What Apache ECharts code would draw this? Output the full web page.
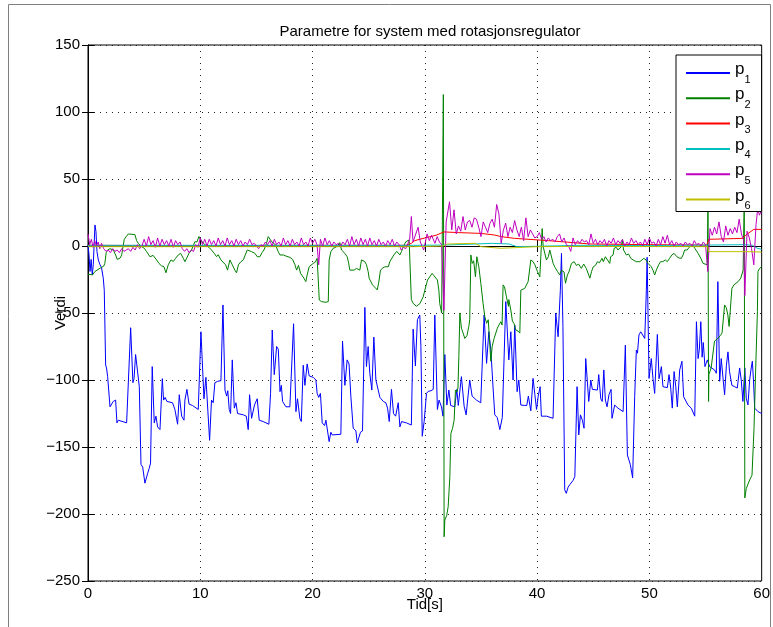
<!DOCTYPE html>
<html>
<head>
<meta charset="utf-8">
<title>Parametre for system med rotasjonsregulator</title>
<script src="https://cdn.jsdelivr.net/npm/echarts@6/dist/echarts.min.js"></script>
<style>
  html, body { margin: 0; padding: 0; background: #fff; }
  #chart { width: 773px; height: 627px; }
</style>
</head>
<body>
<div id="chart"></div>
<script>
// Axis setup
const xTicks = [0, 10, 20, 30, 40, 50, 60];
const yTicks = [-250, -200, -150, -100, -50, 0, 50, 100, 150];
const seriesNames = ['p1', 'p2', 'p3', 'p4', 'p5', 'p6'];

// p1: [time (s), value]
const p1 = [[0,0.7],[0.09,-6.7],[0.18,-19],[0.28,-10],[0.38,-21.6],[0.47,-14],[0.62,15.7],[0.71,10.7],[0.8,-4.2],[0.92,-10.4],[1.07,-14],[1.2,-16],[1.36,-24],[1.45,-33],[1.57,-88.8],[1.65,-91],[1.75,-97.5],[1.96,-120],[2.25,-116],[2.46,-115],[2.58,-132],[2.7,-130],[3.44,-132],[3.6,-131],[3.8,-61],[4.0,-102],[4.1,-99],[4.24,-81],[4.35,-82],[4.57,-105],[4.72,-163],[4.87,-165],[5.07,-177],[5.15,-176],[5.3,-170],[5.45,-166],[5.57,-162],[5.72,-90],[5.9,-132],[6.05,-127],[6.2,-135],[6.41,-137],[6.62,-99],[6.73,-115],[6.87,-113],[7.03,-116],[7.53,-117],[7.74,-122],[7.98,-133],[8.13,-111],[8.34,-127],[8.55,-130],[8.63,-115],[8.81,-107],[9.0,-118],[9.3,-119],[9.82,-122],[9.95,-122],[10.06,-64],[10.33,-114],[10.5,-98],[10.65,-99],[10.83,-145],[11.0,-115],[11.15,-117],[11.3,-102],[11.55,-101],[11.84,-100.5],[12.02,-44],[12.2,-107.5],[12.35,-112],[12.45,-108],[12.58,-122],[12.7,-125],[12.85,-85],[13.03,-121],[13.18,-117],[13.32,-125],[13.83,-126],[14.1,-127],[14.27,-137],[14.39,-111],[14.57,-128.6],[14.66,-128.6],[14.83,-118.6],[15.07,-114],[15.25,-130],[15.6,-131],[16.11,-133],[16.26,-110],[16.41,-62.7],[16.59,-96],[16.8,-75],[16.95,-77],[17.1,-108.7],[17.22,-104],[17.33,-116],[17.63,-120],[17.98,-120],[18.15,-120.5],[18.31,-58],[18.52,-123.6],[18.66,-114],[18.87,-128.6],[19.0,-131],[19.17,-89],[19.32,-104],[19.52,-88],[19.7,-97],[20.06,-98],[20.3,-100],[20.41,-110],[20.55,-113],[20.7,-110],[20.86,-132],[21.07,-134],[21.19,-130],[21.33,-131],[21.48,-146],[21.63,-139],[21.75,-141],[22.52,-140.5],[22.67,-71],[22.88,-104],[23.08,-85],[23.25,-88],[23.41,-112],[23.62,-136],[23.86,-138],[23.98,-147],[24.12,-143],[24.27,-139],[24.45,-138],[24.66,-45.8],[24.8,-90],[24.95,-75],[25.1,-95],[25.28,-107.5],[25.46,-68],[25.64,-100],[25.8,-99],[26.0,-113],[26.3,-116],[26.53,-117],[26.68,-121],[26.83,-131],[27.03,-107],[27.21,-125],[27.4,-127],[27.63,-117],[27.78,-135],[27.93,-131],[28.36,-132],[28.8,-133.6],[28.96,-62],[29.16,-89.5],[29.34,-55],[29.55,-51.5],[29.65,-75],[29.77,-142],[29.94,-131],[30.15,-110],[30.3,-108.5],[30.55,-108],[30.75,-107],[30.89,-51.5],[31.12,-122],[31.27,-115],[31.48,-120],[31.62,-127],[31.78,-81],[31.96,-118.7],[32.14,-107.5],[32.3,-119],[32.67,-120],[32.85,-107],[32.98,-119],[33.1,-118],[33.26,-97.5],[33.5,-119.6],[33.68,-126],[33.85,-112],[34.0,-100],[34.21,-112],[34.6,-115],[34.98,-117],[35.12,-117],[35.28,-51.5],[35.5,-87.6],[35.7,-64],[35.88,-77.6],[36.08,-106],[36.23,-126],[36.45,-128],[36.68,-137],[36.9,-128],[37.05,-128],[37.21,-41.5],[37.48,-85],[37.66,-64],[37.86,-100],[38.01,-59],[38.22,-108.7],[38.37,-100],[38.55,-118.7],[38.9,-119],[39.08,-119],[39.22,-112],[39.44,-123],[39.64,-98.8],[39.8,-111],[39.95,-122],[40.1,-112],[40.27,-105],[40.38,-127],[40.55,-126],[40.85,-127],[41.42,-128.6],[41.66,-50],[41.87,-67.7],[42.07,-33],[42.17,-5.5],[42.3,-60],[42.46,-182],[42.6,-184.6],[42.76,-180],[42.92,-178],[43.2,-175],[43.36,-172],[43.56,-105],[43.71,-141],[43.86,-126],[44.03,-130],[44.18,-136],[44.33,-84],[44.6,-116],[44.78,-100],[44.92,-107],[45.37,-107.5],[45.49,-96],[45.67,-114],[45.8,-116],[45.94,-92.5],[46.08,-115],[46.23,-120],[46.4,-111],[46.59,-107],[46.67,-128.6],[46.91,-118.7],[47.2,-121],[47.66,-123.6],[47.86,-74],[48.04,-156],[48.18,-157],[48.3,-163],[48.51,-173],[48.69,-112.5],[48.84,-77.6],[48.94,-80],[49.07,-66.4],[49.23,-64],[49.4,-65],[49.59,-69],[49.73,-33],[49.8,-8.4],[49.97,-98.8],[50.17,-84],[50.32,-99],[50.47,-110],[50.71,-66],[50.86,-99],[51.07,-90],[51.21,-105],[51.6,-105.7],[51.75,-96],[51.9,-106],[52.04,-121],[52.2,-93.7],[52.35,-105],[52.49,-120],[52.7,-92.5],[52.9,-86],[53.05,-112.5],[53.44,-118.7],[53.73,-121],[54.04,-127],[54.19,-56.5],[54.34,-84],[54.45,-77],[54.58,-56.5],[54.7,-83],[54.8,-72],[54.95,-90],[55.16,-85],[55.37,-90],[55.8,-92.5],[55.96,-95],[56.1,-26.6],[56.26,-101],[56.4,-84],[56.55,-98],[56.7,-111],[56.86,-89],[57.0,-79],[57.14,-93.7],[57.35,-104],[57.6,-105],[57.83,-106],[58.04,-91],[58.18,-100],[58.33,-116],[58.5,-91],[58.63,-113.7],[58.78,-118.6],[58.93,-100],[59.07,-91],[59.17,-86],[59.27,-100],[59.38,-121],[59.67,-123.6],[60,-125]];

// p2
const p2 = [[0,-21],[0.4,-21.6],[0.62,-19],[1.07,-16.6],[1.4,-15],[1.5,-13],[1.62,-5],[1.75,-3],[1.96,-2],[2.26,-3],[2.46,-6.7],[2.6,-10],[2.86,-9],[3.0,-6.7],[3.23,5],[3.4,7],[3.59,9],[4.18,8.5],[4.33,4],[4.48,2],[4.7,0],[5.01,-1.7],[5.22,-4.2],[5.52,-8],[5.8,-7],[6.11,-10.4],[6.32,-13],[6.53,-14.7],[6.77,-15.5],[6.94,-20],[7.15,-14],[7.39,-10.4],[7.6,-11.5],[7.8,-9.2],[8.04,-6.7],[8.25,-5.5],[8.49,-9.2],[8.63,-11.7],[8.8,-9],[8.99,-5.5],[9.22,-3],[9.52,3.2],[9.7,3],[9.88,7],[10.06,4.5],[10.27,2],[10.5,0.5],[10.77,-1],[11.0,-3],[11.25,-5.5],[11.45,-8],[11.6,-6.5],[11.84,-10.4],[12.0,-9.5],[12.25,-14],[12.43,-18],[12.64,-10.4],[12.85,-14],[13.08,-18],[13.23,-20],[13.4,-14],[13.62,-11.7],[13.83,-10.4],[14.0,-11.5],[14.18,-3],[14.35,-2.5],[14.57,-4.2],[14.87,-5.5],[15.07,-8],[15.31,-8],[15.5,-5],[15.67,-3],[15.9,2],[16.05,7],[16.15,7.5],[16.26,4.5],[16.5,2],[16.7,1],[16.94,-4.2],[17.1,-6.7],[17.4,-6.7],[17.63,-7.5],[17.8,-6.7],[17.98,-8.5],[18.22,-10],[18.43,-14],[18.58,-18],[18.75,-14.5],[18.93,-20.4],[19.1,-19.5],[19.23,-24],[19.4,-26.6],[19.52,-21.6],[19.7,-15.4],[19.85,-14.5],[20.06,-13],[20.25,-12],[20.41,-9.2],[20.5,-10.5],[20.6,-40.3],[20.8,-41.5],[21.2,-42],[21.4,-41.5],[21.48,-10.4],[21.63,-4.2],[21.84,-1.7],[22.07,-1],[22.28,0.7],[22.43,2.5],[22.58,-3],[22.88,-5.5],[23.08,-8],[23.2,-12],[23.32,-18],[23.47,-16.7],[23.7,-18],[23.92,-16.7],[24.21,-18],[24.36,-10.4],[24.5,-10.8],[24.66,-11.7],[24.8,-14],[24.95,-19],[25.04,-24],[25.2,-25],[25.34,-29],[25.55,-30.8],[25.76,-32.8],[25.9,-27],[26.05,-18],[26.25,-16.5],[26.44,-15.5],[26.6,-14.5],[26.75,-15.5],[26.88,-11.7],[27.05,-11.7],[27.24,-6.7],[27.5,-4],[27.65,-4],[27.78,-6.7],[27.93,-4],[28.07,-0.5],[28.31,3.2],[28.45,2.5],[28.6,4.5],[28.72,3.5],[28.8,-40],[28.96,-42.8],[29.25,-45],[29.56,-43],[29.85,-38],[30.0,-33],[30.24,-25.4],[30.4,-24.4],[30.65,-20.4],[30.8,-22],[30.95,-23],[31.12,-25.4],[31.25,-33],[31.33,-43],[31.5,-50],[31.65,113],[31.72,-217],[31.78,-204.5],[31.95,-201],[32.08,-194.5],[32.23,-172],[32.32,-140],[32.47,-136],[32.61,-130],[32.73,-107.5],[32.85,-109],[32.95,-106],[33.03,-82.6],[33.12,-50],[33.26,-61.4],[33.41,-65],[33.56,-69],[33.75,-67],[33.92,-60],[34.0,-55],[34.1,-6.7],[34.22,-13],[34.35,-11],[34.51,-23],[34.63,-8],[34.81,-15.5],[34.99,-28],[35.19,-43],[35.34,-52.7],[35.5,-57.7],[35.65,-55],[35.88,-86],[36.0,-75],[36.17,-69],[36.3,-68],[36.46,-61.4],[36.6,-59],[36.77,-56.5],[36.88,-59],[36.97,-29],[37.1,-30.6],[37.27,-38],[37.45,-45],[37.48,-40],[37.66,-47.8],[37.8,-56],[37.95,-58],[38.1,-62.7],[38.3,-63.5],[38.46,-65],[38.55,-33],[38.7,-33],[38.9,-31.6],[39.2,-26.6],[39.44,-10.4],[39.64,-11.7],[39.8,-14],[40.03,-19],[40.24,-23],[40.33,-8],[40.45,13],[40.54,-0.5],[40.7,-0.5],[40.83,-10.4],[41.0,-8],[41.13,-3],[41.3,-3],[41.43,-13],[41.6,-16],[41.81,-19],[42.02,-21.6],[42.17,-18],[42.4,-19.4],[42.53,-27.8],[42.7,-21.6],[42.83,-19.4],[43.06,-13],[43.3,-11.7],[43.5,-14.5],[43.7,-13.5],[43.94,-16.7],[44.15,-13.5],[44.38,-16.7],[44.48,-18],[44.7,-24],[44.85,-19],[45.0,-15.5],[45.2,-14.5],[45.37,-11.7],[45.55,-12.5],[45.78,-9.2],[45.9,-11.7],[46.08,-8],[46.25,-9],[46.47,-13],[46.55,-8],[46.77,-6.7],[46.86,-1.7],[47.05,-1],[47.2,-3],[47.35,-4],[47.5,-0.5],[47.6,4.5],[47.7,-3],[47.95,-6.7],[48.15,-6],[48.34,-9.2],[48.55,-10.4],[48.7,-9.2],[48.84,-11.7],[49.0,-13],[49.15,-11.7],[49.3,-10.4],[49.5,-9.2],[49.7,-10.4],[49.88,-13],[50.03,-14],[50.17,-15.5],[50.32,-18],[50.47,-21.6],[50.62,-18],[50.83,-14],[51.0,-11.7],[51.2,-11.7],[51.42,-10.4],[51.6,-11.7],[51.8,-9.2],[52.0,-6.7],[52.2,-5.5],[52.45,-8],[52.65,-9],[52.85,-9.2],[53.0,-6.7],[53.14,-3],[53.35,-3],[53.6,-0.5],[53.75,-1.7],[53.89,0.7],[54.04,-1.7],[54.34,-5.5],[54.58,-9.2],[54.78,-13],[54.95,-11.7],[55.16,-14],[55.22,35],[55.27,-116],[55.3,-96],[55.5,-91],[55.65,-92],[55.8,-71],[55.95,-70],[56.1,-69],[56.3,-67],[56.47,-65],[56.7,-44],[56.85,-46],[56.99,-51.5],[57.1,-60],[57.24,-44],[57.35,-31.6],[57.53,-29],[57.7,-28],[57.9,-26.6],[58.14,-24],[58.25,-23],[58.35,-18],[58.42,-19],[58.45,35],[58.5,-188],[58.63,-181],[58.93,-174.6],[59.14,-171],[59.32,-136],[59.47,-91],[59.62,-49],[59.67,-19],[59.82,-16.7],[60,-15.5]];

// p3
const p3 = [[0,0.5],[10,0.3],[20,0.5],[28.3,0.5],[28.8,2],[29.1,4],[30,6],[31,8],[31.7,10.5],[33,10],[35,9.4],[36.2,8.2],[36.8,7],[38,5.7],[41,4],[44.7,1.5],[50,1],[55.1,0.7],[55.3,5],[58.3,5.7],[58.6,8.2],[59.3,12.4],[60,12.4]];

// p4
const p4 = [[0,0.5],[29,0.5],[31.7,0.7],[34.5,1.5],[36,2],[37.5,1.5],[38.2,-0.5],[44,0.5],[50,0.3],[55.2,0.7],[58.5,1],[59.2,0.5],[59.6,-1.7],[60,-2.5]];

// p5
const p5 = [[0,9],[0.15,1],[0.3,5],[0.45,-1],[0.6,4],[0.75,0],[0.9,3],[1.05,-2],[1.2,2],[1.4,-2],
[1.6,-4],[1.8,-3],[2.0,-5],[2.2,-2],[2.4,-4],[2.6,-3],[2.8,-5],[3.0,-2],[3.2,-4],[3.4,-3],[3.6,-2],[3.8,-4],[4.0,-1],[4.2,-3],[4.4,1],[4.6,-2],[4.8,0],
[5.0,5],[5.2,0],[5.4,7],[5.6,1],[5.8,4],[6.0,-1],[6.2,6],[6.4,0],[6.6,5],[6.8,1],[7.0,4],[7.2,0],[7.4,5],[7.6,-1],[7.8,4],[8.0,1],[8.2,3],
[8.4,-2],[8.6,-4],[8.8,-2],[9.0,-5],[9.2,-3],[9.4,-4],[9.6,1],[9.8,-1],
[10.0,6],[10.2,1],[10.4,5],[10.6,0],[10.8,5],[11.0,1],[11.2,4],[11.4,0],[11.6,6],[11.8,1],[12.0,4],[12.2,0],[12.4,6],[12.6,1],[12.8,4],[13.0,0],[13.2,5],[13.4,1],[13.6,4],[13.8,0],[14.0,3],[14.2,1],[14.4,5],
[14.6,1],[14.8,2],[15.0,0],[15.2,-2],[15.4,1],[15.6,0],[15.8,3],[16.0,1],
[16.2,4],[16.4,0],[16.6,5],[16.8,1],[17.0,3],[17.2,0],[17.4,6],[17.6,1],[17.8,4],[18.0,0],[18.2,5],[18.4,1],[18.6,3],[18.8,0],[19.0,6],[19.2,1],[19.4,3],[19.6,0],[19.8,6],[20.0,2],[20.2,5],[20.4,1],
[20.55,-14],[20.7,5],
[20.9,0],[21.1,6],[21.3,1],[21.5,4],[21.7,0],[21.9,3],[22.1,1],[22.3,2],[22.5,0],[22.7,3],[22.9,1],[23.1,5],[23.3,0],[23.5,7],[23.7,1],[23.9,5],[24.1,0],[24.3,6],[24.5,1],[24.7,5],[24.9,0],[25.1,6],[25.3,1],[25.5,4],[25.7,0],[25.9,5],[26.1,1],[26.3,3],[26.5,0],[26.7,4],[26.9,1],[27.1,5],[27.3,0],[27.5,3],[27.7,1],[27.9,-3],[28.1,-1],[28.3,-2],[28.5,2],[28.65,5],[28.8,22],[28.95,3],
[29.1,4],[29.4,14],[29.6,3],[29.9,-3],[30.2,9],[30.4,4],[30.6,8],[30.9,2],[31.1,7],[31.3,3],[31.5,1],[31.7,-48],[31.9,18],
[32.2,33],[32.4,12],[32.6,27],[32.8,9],[33.0,15],[33.2,11],[33.4,22],[33.6,12],[33.8,18],[34.0,19],[34.2,14],[34.4,21],[34.6,20],[34.8,14],[35.0,7],[35.2,18],[35.4,14],[35.6,10],[35.8,17],[36.0,20],[36.2,14],[36.4,31],[36.6,24],[36.8,2],[37.0,12],[37.2,17],[37.4,7],[37.6,14],[37.8,10],[38.0,19],[38.2,12],[38.4,7],[38.6,14],[38.8,4],[39.0,21],[39.2,7],[39.4,12],[39.6,9],[39.8,6],[40.0,7],[40.2,10],[40.4,5],[40.6,7],[40.8,3],[41.0,6],[41.2,4],[41.4,5],[41.6,3],[41.8,7],[42.0,9],[42.2,3],[42.4,6],[42.6,1],[42.8,0],[43.0,-4],[43.2,6],[43.4,1],[43.6,4],[43.8,2],[44.0,5],[44.2,3],
[44.4,4],[44.6,1],[44.8,9],[45.0,2],[45.2,5],[45.4,1],[45.6,4],[45.8,2],[46.0,5],[46.2,0],[46.4,4],[46.6,2],[46.8,6],[47.0,1],[47.2,4],[47.4,2],[47.6,5],[47.8,0],[48.0,3],[48.2,1],[48.4,6],[48.6,2],[48.8,4],[49.0,1],[49.2,3],[49.4,0],[49.6,5],[49.8,1],[50.0,6],[50.2,2],[50.4,3],[50.6,0],[50.8,5],[51.0,1],[51.2,7],[51.4,2],[51.6,8],[51.8,1],[52.0,4],[52.2,0],[52.4,3],[52.6,1],[52.8,2],[53.0,0],[53.2,3],[53.4,1],[53.6,2],[53.8,0],[54.0,4],[54.2,1],[54.4,2],[54.6,0],[54.8,3],[55.0,1],
[55.2,-19],[55.4,13],[55.6,8],[55.8,14],[56.0,9],[56.2,18],[56.4,7],[56.6,3],[56.8,15],[57.0,8],[57.2,13],[57.4,9],[57.6,14],[57.8,10],[58.0,20],[58.2,9],[58.4,4],[58.5,-37],[58.7,11],[58.9,6],[59.1,-2],[59.3,-14],[59.5,16],[59.65,28],[59.8,23],[60,27]];

// p6
const p6 = [[0,-0.5],[29,-0.5],[31.6,0],[32,1.5],[34.5,2],[35,-0.5],[36.8,-1.7],[40,-0.5],[44,-0.3],[55.2,-0.5],[55.25,-4.2],[58.5,-4.2],[58.55,-5.5],[60,-4.5]];

const seriesData = [p1, p2, p3, p4, p5, p6];
const seriesColors = ['#0000ff', '#008000', '#ff0000', '#00bfbf', '#bf00bf', '#bfbf00'];

const FONT = 'Liberation Sans, Arial, Helvetica, sans-serif';

const chart = echarts.init(document.getElementById('chart'), null, { renderer: 'canvas' });

const dotted = { color: '#222', type: [1, 5], width: 1 };

function minusFmt(v) {
  return v < 0 ? '\u2212' + Math.abs(v) : String(v);
}

const baseAxis = {
  axisLine: { show: true, lineStyle: { color: '#000', width: 1 } },
  axisTick: { show: true, inside: true, length: 6, lineStyle: { color: '#000', width: 1 } },
  minorTick: { show: false }
};

const option = {
  animation: false,
  backgroundColor: '#fff',
  textStyle: { fontFamily: FONT },
  title: {
    text: 'Parametre for system med rotasjonsregulator',
    left: 425,
    top: 19,
    textAlign: 'center',
    textStyle: { fontFamily: FONT, fontSize: 15, fontWeight: 'normal', color: '#000' }
  },
  graphic: [{
    type: 'rect',
    shape: { x: 8.5, y: 4.5, width: 762, height: 700 },
    style: { fill: 'none', stroke: '#808080', lineWidth: 1 },
    silent: true,
    z: -10
  }],
  grid: {
    left: 88, right: 11, top: 45, bottom: 46,
    show: true, borderColor: '#000', borderWidth: 1, backgroundColor: '#fff'
  },
  legend: {
    data: seriesNames,
    orient: 'vertical',
    left: 676,
    top: 55,
    padding: [6, 11, 0, 9],
    itemWidth: 44,
    itemHeight: 16,
    itemGap: 1.3,
    selectedMode: false,
    backgroundColor: '#fff',
    borderColor: '#000',
    borderWidth: 1,
    itemStyle: { opacity: 0 },
    formatter: function (name) { return '{p|p}{s|' + name.slice(1) + '}'; },
    textStyle: {
      fontFamily: FONT,
      color: '#000',
      rich: {
        p: { fontFamily: FONT, fontSize: 17, color: '#000', lineHeight: 24, verticalAlign: 'top' },
        s: { fontFamily: FONT, fontSize: 11, color: '#000', lineHeight: 11, padding: [13, 0, 0, 0], verticalAlign: 'top' }
      }
    }
  },
  xAxis: [
    Object.assign({}, baseAxis, {
      type: 'value', position: 'bottom', min: xTicks[0], max: xTicks[xTicks.length - 1], interval: 10,
      name: 'Tid[s]', nameLocation: 'middle', nameGap: 16, nameMoveOverlap: false,
      nameTextStyle: { fontFamily: FONT, fontSize: 15, color: '#000', verticalAlign: 'top' },
      axisLabel: { fontFamily: FONT, fontSize: 15, color: '#000', margin: 5 },
      splitLine: { show: true, lineStyle: dotted }
    }),
    Object.assign({}, baseAxis, {
      type: 'value', position: 'top', min: xTicks[0], max: xTicks[xTicks.length - 1], interval: 10,
      axisLabel: { show: false }, splitLine: { show: false }
    })
  ],
  yAxis: [
    Object.assign({}, baseAxis, {
      type: 'value', position: 'left', min: yTicks[0], max: yTicks[yTicks.length - 1], interval: 50,
      name: 'Verdi', nameLocation: 'middle', nameGap: 20, nameRotate: 90, nameMoveOverlap: false,
      nameTextStyle: { fontFamily: FONT, fontSize: 15, color: '#000' },
      axisLabel: { fontFamily: FONT, fontSize: 15, color: '#000', margin: 8, formatter: minusFmt },
      splitLine: { show: true, lineStyle: dotted }
    }),
    Object.assign({}, baseAxis, {
      type: 'value', position: 'right', min: yTicks[0], max: yTicks[yTicks.length - 1], interval: 50,
      axisLabel: { show: false }, splitLine: { show: false }
    })
  ],
  series: seriesNames.map(function (name, i) {
    return {
      name: name,
      type: 'line',
      xAxisIndex: 0,
      yAxisIndex: 0,
      data: seriesData[i],
      symbol: 'none',
      showSymbol: false,
      sampling: null,
      clip: true,
      color: seriesColors[i],
      lineStyle: { color: seriesColors[i], width: 1 },
      emphasis: { disabled: true },
      z: 2
    };
  })
};

chart.setOption(option);
</script>
</body>
</html>
